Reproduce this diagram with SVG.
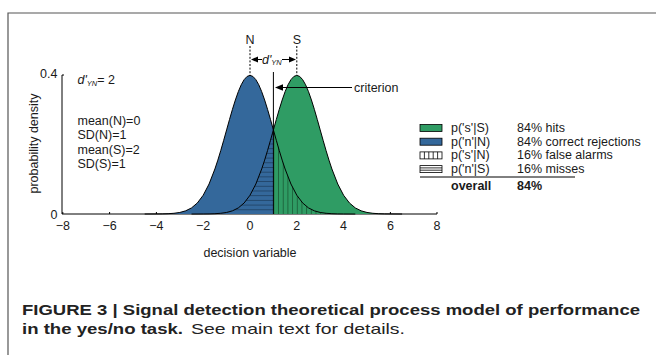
<svg xmlns="http://www.w3.org/2000/svg" xmlns:xlink="http://www.w3.org/1999/xlink" width="656" height="355" viewBox="0 0 656 355">
<style>
.t{font-family:"Liberation Sans",Arial,sans-serif;font-size:12.5px;fill:#1a1a1a}
.i{font-style:italic}
.sub{font-size:7.5px;font-style:italic}
.b{font-weight:bold}
.cap{font-family:"Liberation Sans",Arial,sans-serif;font-size:15px;fill:#222}
.ax{stroke:#000;stroke-width:1;fill:none}
.crv{fill:none;stroke:#000;stroke-width:1;stroke-linejoin:round}
.dash{stroke:#000;stroke-width:1;stroke-dasharray:2 1.6}
.sw{stroke:#000;stroke-width:0.8}
</style>
<defs>
<path id="nc" d="M144.7,214 L156.4,213.95 L162.25,213.88 L168.1,213.7 L173.95,213.29 L179.8,212.46 L185.65,210.84 L191.5,207.91 L197.35,202.97 L203.2,195.24 L209.05,184.02 L214.9,168.99 L217.83,160.13 L220.75,150.53 L223.68,140.37 L226.6,129.92 L229.53,119.46 L232.45,109.35 L235.38,99.97 L238.3,91.66 L241.23,84.78 L244.15,79.63 L247.08,76.45 L250,75.37 L252.93,76.45 L255.85,79.63 L258.78,84.78 L261.7,91.66 L264.63,99.97 L267.55,109.35 L270.48,119.46 L273.4,129.92 L276.33,140.37 L279.25,150.53 L282.18,160.13 L285.1,168.99 L290.95,184.02 L296.8,195.24 L302.65,202.97 L308.5,207.91 L314.35,210.84 L320.2,212.46 L326.05,213.29 L331.9,213.7 L337.75,213.88 L343.6,213.95 L355.3,214"/>
<clipPath id="cl"><rect x="0" y="0" width="273.4" height="355"/></clipPath>
<clipPath id="cr"><rect x="273.4" y="0" width="400" height="355"/></clipPath>
<pattern id="hh" patternUnits="userSpaceOnUse" x="0" y="214" width="10" height="4.7">
<line x1="0" y1="0.4" x2="10" y2="0.4" stroke="#1b3a5a" stroke-width="0.8"/>
</pattern>
<pattern id="vh" patternUnits="userSpaceOnUse" x="273.4" y="0" width="4.68" height="10">
<line x1="0.4" y1="0" x2="0.4" y2="10" stroke="#17512f" stroke-width="0.8"/>
</pattern>
</defs>

<g id="frame"><path d="M8,355 V13 H656" fill="none" stroke="#555" stroke-width="1.2"/></g>

<g id="axes">
<path class="ax" d="M62,75 V214 H437"/>
<path class="ax" d="M62.8,214v-2M109.6,214v-2M156.4,214v-2M203.2,214v-2M250,214v-2M296.8,214v-2M343.6,214v-2M390.4,214v-2M437,214v-2M62,75h2"/>
<g class="t" text-anchor="middle">
<text x="62.8" y="229.5">−8</text>
<text x="109.6" y="229.5">−6</text>
<text x="156.4" y="229.5">−4</text>
<text x="203.2" y="229.5">−2</text>
<text x="250" y="229.5">0</text>
<text x="296.8" y="229.5">2</text>
<text x="343.6" y="229.5">4</text>
<text x="390.4" y="229.5">6</text>
<text x="437" y="229.5">8</text>
<text x="250" y="257">decision variable</text>
<text transform="translate(37.5,143.5) rotate(-90)">probability density</text>
</g>
<g class="t" text-anchor="end">
<text x="57.5" y="78">0.4</text>
<text x="57.5" y="218.5">0</text>
</g>
</g>

<g id="curves">
<g clip-path="url(#cl)"><use xlink:href="#nc" fill="#34689b"/></g>
<g clip-path="url(#cr)"><use xlink:href="#nc" transform="translate(46.8,0)" fill="#2f9c64"/></g>
<g clip-path="url(#cl)"><use xlink:href="#nc" transform="translate(46.8,0)" fill="url(#hh)"/></g>
<g clip-path="url(#cr)"><use xlink:href="#nc" fill="url(#vh)"/></g>
<use xlink:href="#nc" class="crv"/>
<use xlink:href="#nc" class="crv" transform="translate(46.8,0)"/>
</g>

<g id="criterion">
<line x1="273.4" y1="72" x2="273.4" y2="214" stroke="#000" stroke-width="1"/>
<text class="t" x="354" y="92">criterion</text>
</g>

<g id="means">
<line class="dash" x1="250" y1="46" x2="250" y2="75"/>
<line class="dash" x1="296.8" y1="46" x2="296.8" y2="75"/>
<text class="t" x="250" y="43.5" text-anchor="middle">N</text>
<text class="t" x="296.8" y="43.5" text-anchor="middle">S</text>
<text class="t" x="262" y="63.5"><tspan class="i">d'</tspan><tspan class="sub" dy="1.5">YN</tspan></text>
</g>

<g id="connectors">
<line x1="352" y1="87.5" x2="281" y2="87.5" stroke="#000" stroke-width="1"/>
<polygon points="275,87.5 283,84.3 283,90.7" fill="#000"/>
<line x1="257" y1="59.5" x2="262" y2="59.5" stroke="#000" stroke-width="1"/>
<polygon points="251,59.5 258,56.5 258,62.5" fill="#000"/>
<line x1="282" y1="59.5" x2="289" y2="59.5" stroke="#000" stroke-width="1"/>
<polygon points="296,59.5 289,56.5 289,62.5" fill="#000"/>
</g>

<g id="params" class="t">
<text x="77.5" y="84"><tspan class="i">d'</tspan><tspan class="sub" dy="1.5">YN</tspan><tspan dy="-1.5">= 2</tspan></text>
<text x="77.5" y="125">mean(N)=0</text>
<text x="77.5" y="139.3">SD(N)=1</text>
<text x="77.5" y="153.6">mean(S)=2</text>
<text x="77.5" y="168">SD(S)=1</text>
</g>

<g id="legend">
<rect class="sw" x="420" y="124.5" width="22" height="7" fill="#2f9c64"/>
<rect class="sw" x="420" y="138.2" width="22" height="7" fill="#34689b"/>
<rect class="sw" x="420" y="151.9" width="22" height="7" fill="#fff"/>
<path class="sw" d="M424.4,151.9v7M428.8,151.9v7M433.2,151.9v7M437.6,151.9v7"/>
<rect class="sw" x="420" y="165.6" width="22" height="7" fill="#fff"/>
<path class="sw" d="M420,167.9h22M420,170.2h22"/>
<line x1="420" y1="177" x2="575" y2="177" stroke="#000" stroke-width="1"/>
<g class="t">
<text x="451" y="132">p('s'|S)</text>
<text x="451" y="145.7">p('n'|N)</text>
<text x="451" y="159.4">p('s'|N)</text>
<text x="451" y="173.1">p('n'|S)</text>
<text x="451" y="190" class="b">overall</text>
<text x="517" y="132">84% hits</text>
<text x="517" y="145.7">84% correct rejections</text>
<text x="517" y="159.4">16% false alarms</text>
<text x="517" y="173.1">16% misses</text>
<text x="517" y="190" class="b">84%</text>
</g>
</g>

<g id="caption">
<text class="cap b" x="22" y="315" textLength="618" lengthAdjust="spacingAndGlyphs">FIGURE 3 | Signal detection theoretical process model of performance</text>
<text class="cap b" x="22" y="333.5" textLength="161" lengthAdjust="spacingAndGlyphs">in the yes/no task.</text>
<text class="cap" x="191" y="333.5" textLength="214" lengthAdjust="spacingAndGlyphs">See main text for details.</text>
</g>
</svg>
